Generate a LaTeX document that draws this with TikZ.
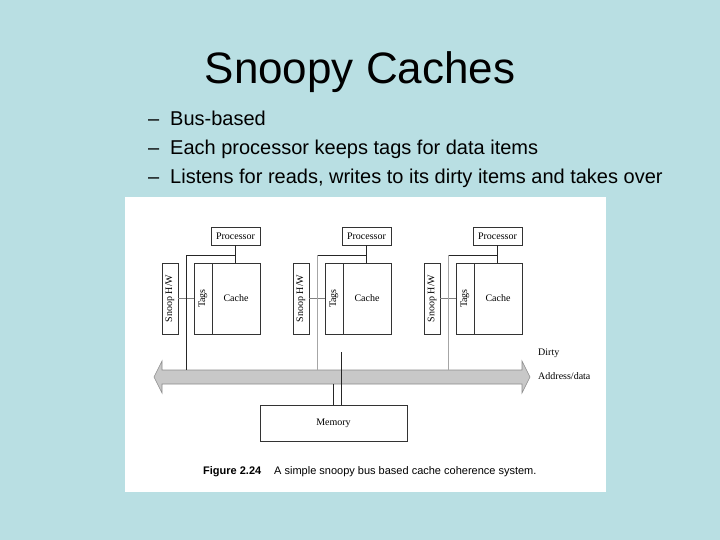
\documentclass[tikz,border=0pt]{standalone}
\usepackage{fontspec}
\setmainfont{Liberation Sans}
\newfontfamily\serifft{Liberation Serif}
\definecolor{bg}{RGB}{185,223,227}
\definecolor{busfill}{RGB}{200,200,200}
\begin{document}
\begin{tikzpicture}[x=1pt,y=-1pt,
  box/.style={draw=black!80,line width=0.7pt,inner sep=0pt,font=\serifft\fontsize{10}{10}\selectfont},
  wire/.style={draw=black!85,line width=0.7pt},
  gwire/.style={draw=black!35,line width=0.7pt},
  lbl/.style={inner sep=0pt,font=\serifft\fontsize{10}{10}\selectfont,anchor=west},
  bullet/.style={inner sep=0pt,anchor=base west,font=\fontsize{20}{20}\selectfont}]
\fill[bg] (0,0) rectangle (720,540);
\useasboundingbox (0,0) rectangle (720,540);
\fill[white] (125,197) rectangle (606,492);
% title and bullets
\node[inner sep=0pt,anchor=base,font=\fontsize{44}{44}\selectfont] (title) at (360,84) {Snoopy Caches};
\node[bullet] (d1) at (148,126) {--};
\node[bullet] (t1) at (170,126) {Bus-based};
\node[bullet] (d2) at (148,155) {--};
\node[bullet] (t2) at (170,155) {Each processor keeps tags for data items};
\node[bullet] (d3) at (148,184) {--};
\node[bullet] (t3) at (170,184) {Listens for reads, writes to its dirty items and takes over};
% bus
\draw[draw=black!45,fill=busfill,line width=0.6pt] (154,377) -- (162,361) -- (162,370) -- (522,370) -- (522,361) -- (530,377) -- (522,393) -- (522,384) -- (162,384) -- (162,393) -- cycle;
% processor units
\foreach \i/\o in {1/0,2/131,3/262}{
  \node[box,minimum width=49pt,minimum height=18pt] (proc\i) at (235.5+\o,236) {Processor};
  \node[box,rotate=90,minimum width=71pt,minimum height=16pt] (snoop\i) at (170+\o,298.5) {Snoop H/W};
  \node[box,rotate=90,minimum width=71pt,minimum height=18pt] (tags\i) at (203+\o,298.5) {Tags};
  \node[box,minimum width=48pt,minimum height=71pt] (cache\i) at (236+\o,298.5) {Cache};
  \coordinate (j\i) at (235.5+\o,255);
  \coordinate (k\i) at (186+\o,255);
  \coordinate (b\i) at (186+\o,370);
  \draw[wire] (proc\i.south) -- (proc\i.south |- cache\i.north);
  \draw[wire] (j\i) -- (k\i);
  \draw[wire,draw=black!50] (snoop\i.south) -- (tags\i.north);
}
\draw[wire] (k1) -- (b1);
\draw[gwire] (k2) -- (b2);
\draw[gwire] (k3) -- (b3);
% memory
\node[box,minimum width=147pt,minimum height=36pt] (mem) at (333.5,423) {Memory};
\coordinate (m1) at (333,384);
\coordinate (m2) at (341,352);
\draw[wire] (mem.north -| m1) -- (m1);
\draw[wire] (mem.north -| m2) -- (m2);
% labels
\node[lbl] (dirty) at (538,353) {Dirty};
\node[lbl] (addr) at (538,376) {Address/data};
% caption
\node[inner sep=0pt,anchor=base west,font=\fontsize{11}{11}\selectfont\bfseries] (fig) at (203,474) {Figure 2.24};
\node[inner sep=0pt,anchor=base west,font=\fontsize{11}{11}\selectfont] (cap) at (274,474) {A simple snoopy bus based cache coherence system.};
\end{tikzpicture}
\end{document}
